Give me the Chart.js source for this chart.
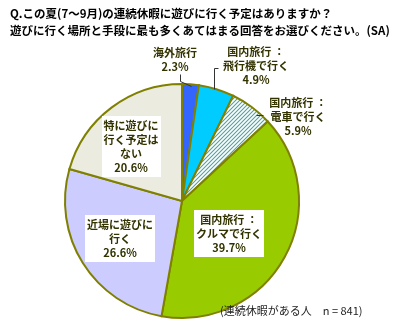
<!DOCTYPE html>
<html lang="ja">
<head>
<meta charset="utf-8">
<title>連続休暇の予定</title>
<script src="https://cdn.jsdelivr.net/npm/chart.js"></script>
<style>
  html, body { margin: 0; padding: 0; background: #fff; }
  #chart { display: block; }
</style>
</head>
<body>
<canvas id="chart" width="400" height="334"></canvas>
<script>
// 回答項目(ラベルの行ごと)と割合(%)
const categories = [
  ['海外旅行'],
  ['国内旅行 ：', '飛行機で行く'],
  ['国内旅行 ：', '電車で行く'],
  ['国内旅行 ：', 'クルマで行く'],
  ['近場に遊びに', '行く'],
  ['特に遊びに', '行く予定は', 'ない']
];
const shares = [2.3, 4.9, 5.9, 39.7, 26.6, 20.6];

const titleLines = [
  'Q.この夏(7～9月)の連続休暇に遊びに行く予定はありますか？',
  '遊びに行く場所と手段に最も多くあてはまる回答をお選びください。(SA)'
];
const note = '(連続休暇がある人　n = 841)';

// 斜線ハッチ(電車)
function hatch() {
  const c = document.createElement('canvas');
  c.width = 4; c.height = 4;
  const g = c.getContext('2d');
  g.fillStyle = '#ffffff';
  g.fillRect(0, 0, 4, 4);
  g.strokeStyle = '#4fa3a3';
  g.lineWidth = 1.1;
  g.beginPath();
  g.moveTo(-1, 5); g.lineTo(5, -1);
  g.moveTo(-1, 1); g.lineTo(1, -1);
  g.moveTo(3, 5); g.lineTo(5, 3);
  g.stroke();
  return g.createPattern(c, 'repeat');
}

const ctx = document.getElementById('chart').getContext('2d');
const colors = ['#3366ff', '#00ccff', hatch(), '#99cc00', '#ccccff', '#ebebdf'];

// ラベル配置(円の中心からのずれ)と引き出し線
const labelLayout = [
  { dx: -7, dy: -141, box: false, leader: [[9, -115], [-2, -120], [-2, -127]] },
  { dx: 74, dy: -135, box: false, leader: [[32, -112], [32, -133], [36, -133]] },
  { dx: 116, dy: -84, box: false, leader: [[74, -86], [81, -86]] },
  { dx: 47, dy: 33, box: true },
  { dx: -62, dy: 38, box: true },
  { dx: -51, dy: -54, box: true }
];

const labelsPlugin = {
  id: 'labelsPlugin',
  afterDatasetsDraw(chart) {
    const c = chart.ctx;
    const arcs = chart.getDatasetMeta(0).data;
    const cx = arcs[0].x, cy = arcs[0].y;
    const lh = 14;
    c.save();
    c.font = 'bold 11px "Noto Sans CJK JP"';
    c.textAlign = 'center';
    c.textBaseline = 'middle';
    labelLayout.forEach((l, i) => {
      if (l.leader) {
        c.strokeStyle = '#333333';
        c.lineWidth = 1;
        c.beginPath();
        l.leader.forEach((p, k) => {
          if (k === 0) c.moveTo(cx + p[0] + 0.5, cy + p[1] + 0.5);
          else c.lineTo(cx + p[0] + 0.5, cy + p[1] + 0.5);
        });
        c.stroke();
      }
      const lines = categories[i].concat([shares[i].toFixed(1) + '%']);
      const x = cx + l.dx, y = cy + l.dy;
      const top = y - lines.length * lh / 2;
      if (l.box) {
        const w = Math.max(...lines.map(s => c.measureText(s).width)) + 4;
        c.fillStyle = '#ffffff';
        c.fillRect(Math.round(x - w / 2), Math.round(top - 3), Math.round(w), lines.length * lh + 5);
      }
      c.fillStyle = '#333300';
      lines.forEach((s, k) => c.fillText(s, x, top + lh * k + lh / 2));
    });

    c.fillStyle = '#000000';
    c.textAlign = 'left';
    c.font = 'bold 11.5px "Noto Sans CJK JP"';
    titleLines.forEach((s, k) => c.fillText(s, 10, 14 + 17 * k));
    c.font = '11px "Noto Sans CJK JP"';
    c.fillStyle = '#222222';
    c.fillText(note, 220, 311);
    c.restore();
  }
};

new Chart(ctx, {
  type: 'pie',
  data: {
    labels: categories.map(a => a.join('')),
    datasets: [{
      data: shares,
      backgroundColor: colors,
      borderColor: '#808000',
      borderWidth: 2,
      borderJoinStyle: 'miter'
    }]
  },
  options: {
    responsive: false,
    animation: false,
    layout: { padding: { left: 64, right: 100, top: 83, bottom: 15 } },
    plugins: {
      legend: { display: false },
      tooltip: { enabled: false }
    }
  },
  plugins: [labelsPlugin]
});
</script>
</body>
</html>
